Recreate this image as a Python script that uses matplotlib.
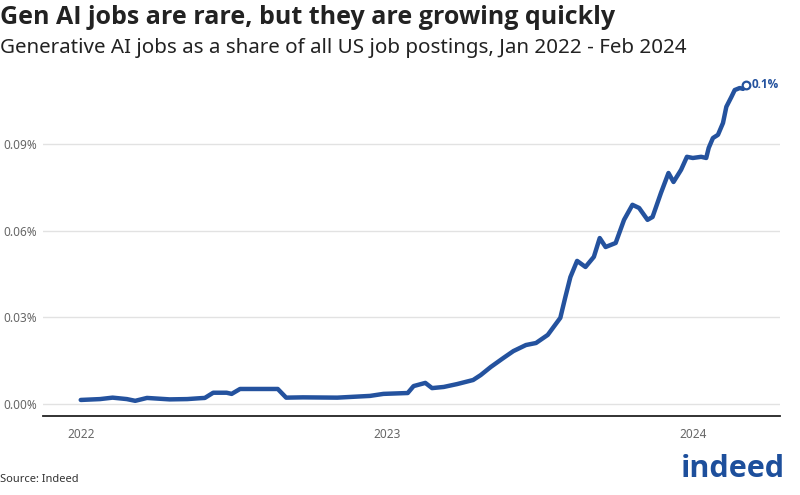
import numpy as np
import pandas as pd
import matplotlib.pyplot as plt
import matplotlib.dates as mdates

# --- données (part des offres Gen AI, en %) ---
dates = ["2022-01-01", "2022-01-24", "2022-02-08", "2022-02-25", "2022-03-07",
         "2022-03-21", "2022-04-17", "2022-05-08", "2022-05-23", "2022-05-29",
         "2022-06-08", "2022-06-24", "2022-06-30", "2022-07-10", "2022-08-24",
         "2022-09-03", "2022-09-23", "2022-11-03", "2022-12-12", "2022-12-28",
         "2023-01-26", "2023-02-02", "2023-02-16", "2023-02-24", "2023-03-10",
         "2023-03-26", "2023-04-14", "2023-04-23", "2023-05-05", "2023-05-20",
         "2023-06-01", "2023-06-16", "2023-06-28", "2023-07-12", "2023-07-27",
         "2023-08-02", "2023-08-08", "2023-08-16", "2023-08-26", "2023-09-05",
         "2023-09-12", "2023-09-19", "2023-10-01", "2023-10-11", "2023-10-21",
         "2023-10-29", "2023-11-08", "2023-11-14", "2023-11-24", "2023-12-03",
         "2023-12-09", "2023-12-18", "2023-12-25", "2024-01-01", "2024-01-11",
         "2024-01-17", "2024-01-20", "2024-01-25", "2024-01-31", "2024-02-06",
         "2024-02-10", "2024-02-16", "2024-02-20", "2024-02-26", "2024-03-01",
         "2024-03-04"]
share = [0.0014, 0.0017, 0.0022, 0.0017, 0.0011,
         0.0021, 0.0016, 0.0017, 0.0020, 0.0021,
         0.0039, 0.0039, 0.0035, 0.0052, 0.0052,
         0.0022, 0.0023, 0.0022, 0.0028, 0.0035,
         0.0038, 0.0062, 0.0073, 0.0055, 0.0059,
         0.0069, 0.0083, 0.0100, 0.0128, 0.0159,
         0.0183, 0.0204, 0.0211, 0.0239, 0.0298,
         0.0370, 0.0439, 0.0495, 0.0474, 0.0509,
         0.0574, 0.0543, 0.0557, 0.0637, 0.0689,
         0.0678, 0.0637, 0.0647, 0.0730, 0.0799,
         0.0768, 0.0810, 0.0855, 0.0851, 0.0855,
         0.0851, 0.0886, 0.0920, 0.0931, 0.0972,
         0.1028, 0.1062, 0.1086, 0.1093, 0.1090,
         0.1104]
yticks = [0.0, 0.03, 0.06, 0.09]
ytick_labels = ["0.00%", "0.03%", "0.06%", "0.09%"]
years = ["2022", "2023", "2024"]

bleu = "#24529e"
gris = "#666666"

d = pd.to_datetime(dates)

plt.rcParams['font.family'] = ['Noto Sans', 'DejaVu Sans']
fig = plt.figure(figsize=(8, 4.95), dpi=100)
ax = fig.add_axes([43/800, 1-416/495, (780-43)/800, (416-75)/495])

ax.plot(d, share, color=bleu, lw=3.2, solid_capstyle='round', solid_joinstyle='round')
ax.plot(d[-1], share[-1], 'o', ms=5.5, mfc='white', mec=bleu, mew=1.6)
ax.annotate("0.1%", (d[-1], share[-1]), xytext=(4, 0), textcoords='offset points',
            va='center', ha='left', color=bleu, fontsize=8.5, fontweight='bold',
            family=['Open Sans', 'DejaVu Sans'])

ax.set_ylim(-0.00415, 0.1138)
ax.set_xlim(pd.Timestamp("2021-11-17"), pd.Timestamp("2024-04-14"))
ax.set_yticks(yticks)
ax.set_yticklabels(ytick_labels)
ax.set_xticks(pd.to_datetime([y + "-01-01" for y in years]))
ax.xaxis.set_major_formatter(mdates.DateFormatter('%Y'))
ax.tick_params(axis='y', length=0, pad=4.5, labelsize=8.5, labelcolor=gris)
ax.tick_params(axis='x', length=0, pad=9, labelsize=8.5, labelcolor=gris)
ax.grid(axis='y', color='#e2e2e2', lw=1)
ax.set_axisbelow(True)
for s in ['top', 'right', 'left']:
    ax.spines[s].set_visible(False)
ax.spines['bottom'].set_color('#222222')
ax.spines['bottom'].set_linewidth(1.3)

fig.text(0.0, 1-18/495, "Gen AI jobs are rare, but they are growing quickly",
         fontsize=18, fontweight='bold', color='#222222', va='center', ha='left',
         family=['Open Sans', 'DejaVu Sans'])
fig.text(0.0, 1-48/495, "Generative AI jobs as a share of all US job postings, Jan 2022 - Feb 2024",
         fontsize=14.8, color='#222222', va='center', ha='left')
fig.text(0.0, 1-480/495, "Source: Indeed", fontsize=8, color='#333333', va='center', ha='left')
fig.text(785/800, 1-469/495, "indeed", fontsize=22, fontweight='bold', color='#1d4f9c',
         va='center', ha='right', family=['Open Sans', 'DejaVu Sans'])

fig.savefig("out.png", dpi=100)
